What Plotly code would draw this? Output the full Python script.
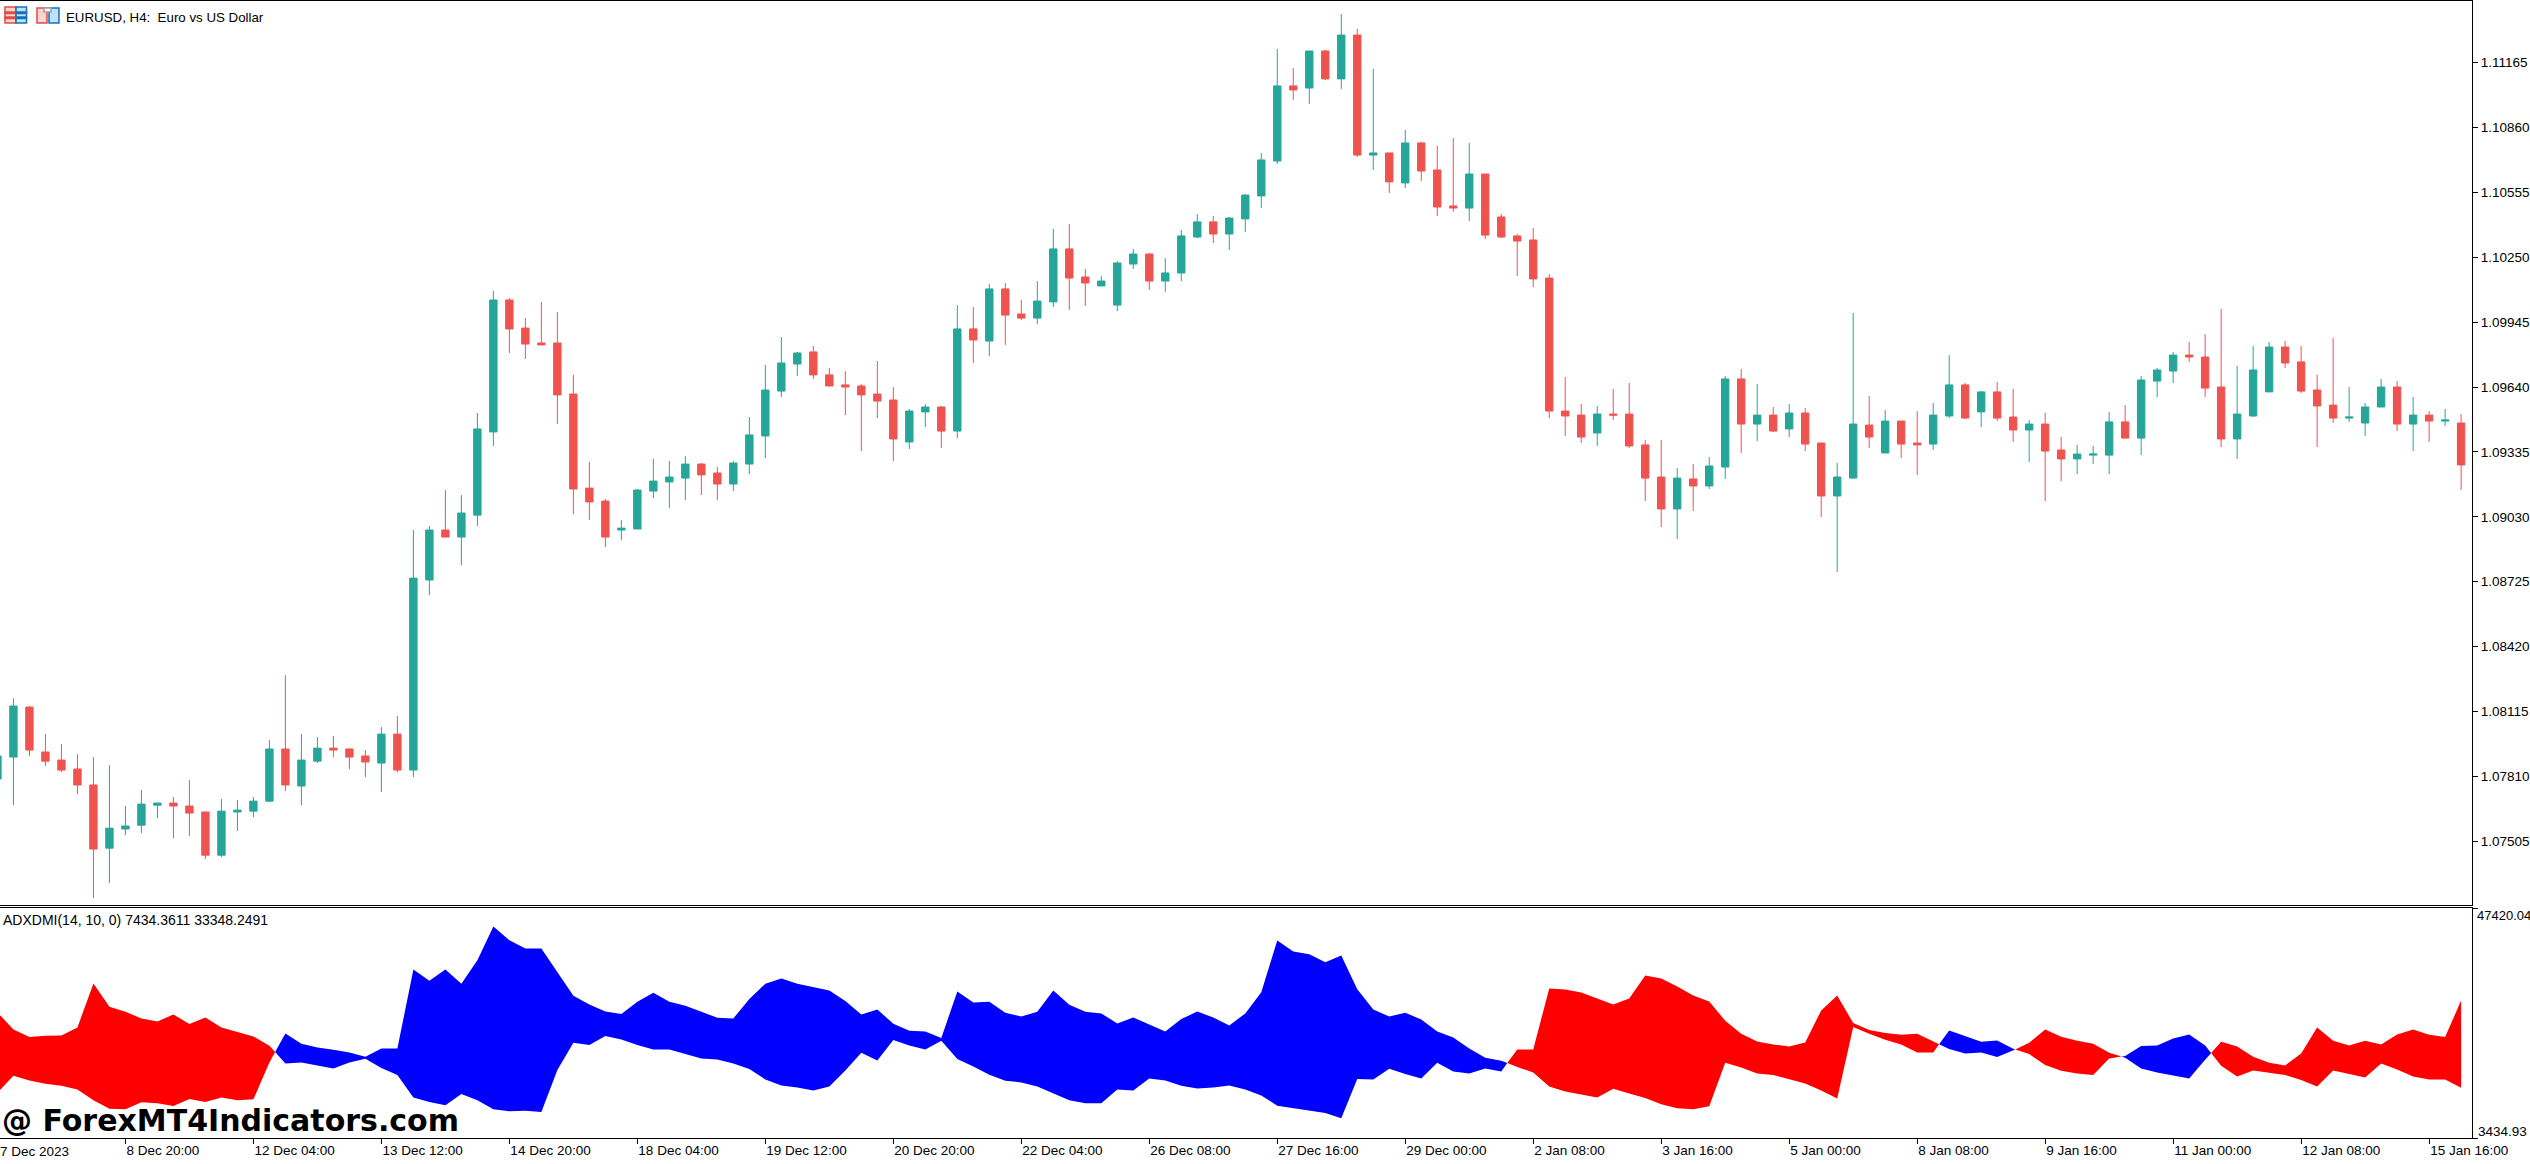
import plotly.graph_objects as go

# price data in MT4 points (1/100000)
open_pts = [
    107798, 107901, 108136, 107925, 107887, 107845, 107770, 107473, 107563, 107581, 107675, 107685, 107671, 107643, 107440, 107643,
    107647, 107694, 107939, 107765, 107882, 107943, 107939, 107906, 107873, 108009, 107840, 108733, 108968, 108935, 109038, 109429,
    110049, 109917, 109847, 109847, 109607, 109165, 109104, 108968, 108973, 109151, 109194, 109212, 109278, 109236, 109184, 109278,
    109410, 109621, 109748, 109805, 109697, 109650, 109645, 109607, 109579, 109382, 109523, 109546, 109433, 109913, 109856, 110101,
    109983, 109964, 110040, 110289, 110157, 110115, 110025, 110218, 110265, 110138, 110176, 110345, 110416, 110359, 110430, 110538,
    110702, 111055, 111045, 111219, 111088, 111294, 110730, 110740, 110599, 110787, 110660, 110491, 110481, 110641, 110439, 110350,
    110331, 110152, 109527, 109508, 109424, 109513, 109513, 109368, 109217, 109067, 109208, 109175, 109264, 109678, 109466, 109508,
    109443, 109518, 109377, 109128, 109212, 109461, 109330, 109480, 109377, 109372, 109504, 109650, 109523, 109617, 109499, 109438,
    109466, 109344, 109302, 109320, 109320, 109476, 109400, 109668, 109715, 109790, 109781, 109640, 109396, 109504, 109617, 109828,
    109758, 109626, 109555, 109494, 109471, 109546, 109640, 109466, 109508, 109480, 109471,
]
high_pts = [
    107939, 108178, 108141, 108009, 107962, 107915, 107901, 107863, 107671, 107746, 107685, 107713, 107793, 107643, 107704, 107699,
    107713, 107981, 108286, 108009, 107995, 108000, 107943, 107934, 108042, 108094, 108968, 108987, 109156, 109132, 109518, 110091,
    110058, 109964, 110040, 109993, 109697, 109288, 109114, 109015, 109161, 109302, 109292, 109316, 109283, 109264, 109292, 109499,
    109744, 109875, 109805, 109833, 109729, 109715, 109654, 109762, 109640, 109537, 109560, 109551, 110025, 110016, 110124, 110129,
    110049, 110138, 110383, 110406, 110195, 110162, 110232, 110289, 110270, 110246, 110378, 110453, 110444, 110439, 110547, 110740,
    111229, 111139, 111219, 111224, 111393, 111323, 111135, 110740, 110848, 110792, 110773, 110810, 110787, 110641, 110453, 110359,
    110387, 110171, 109687, 109560, 109551, 109631, 109659, 109391, 109391, 109259, 109278, 109311, 109692, 109725, 109654, 109546,
    109560, 109541, 109377, 109283, 109988, 109598, 109532, 109480, 109527, 109565, 109790, 109659, 109621, 109664, 109631, 109485,
    109518, 109405, 109368, 109363, 109523, 109555, 109692, 109729, 109805, 109852, 109889, 110007, 109739, 109833, 109852, 109856,
    109833, 109697, 109870, 109640, 109565, 109678, 109668, 109593, 109527, 109537, 109513,
]
low_pts = [
    107751, 107676, 107906, 107859, 107831, 107727, 107238, 107309, 107534, 107544, 107614, 107520, 107530, 107422, 107431, 107553,
    107619, 107690, 107741, 107675, 107873, 107901, 107845, 107807, 107737, 107831, 107807, 108662, 108935, 108803, 108987, 109363,
    109800, 109772, 109838, 109466, 109043, 109015, 108888, 108921, 108973, 109118, 109071, 109109, 109132, 109109, 109151, 109231,
    109306, 109593, 109692, 109678, 109645, 109508, 109339, 109494, 109292, 109349, 109452, 109353, 109400, 109753, 109786, 109838,
    109955, 109936, 110016, 110002, 110021, 110115, 109997, 110195, 110096, 110087, 110138, 110340, 110317, 110284, 110369, 110481,
    110688, 110989, 110970, 111083, 111041, 110721, 110660, 110552, 110575, 110608, 110444, 110463, 110420, 110336, 110340, 110162,
    110110, 109494, 109410, 109377, 109363, 109485, 109353, 109104, 108982, 108926, 109057, 109161, 109208, 109330, 109386, 109429,
    109405, 109339, 109029, 108771, 109212, 109353, 109330, 109306, 109227, 109344, 109494, 109490, 109452, 109480, 109382, 109288,
    109104, 109198, 109231, 109278, 109231, 109400, 109320, 109593, 109659, 109758, 109593, 109358, 109302, 109499, 109617, 109729,
    109612, 109358, 109471, 109476, 109410, 109546, 109433, 109339, 109382, 109457, 109156,
]
close_pts = [
    107906, 108141, 107934, 107882, 107840, 107770, 107469, 107567, 107577, 107680, 107685, 107671, 107638, 107440, 107647, 107652,
    107694, 107939, 107770, 107887, 107943, 107934, 107901, 107878, 108009, 107840, 108742, 108968, 108935, 109048, 109443, 110049,
    109913, 109842, 109838, 109603, 109161, 109100, 108935, 108977, 109156, 109198, 109217, 109278, 109227, 109184, 109283, 109415,
    109626, 109753, 109800, 109697, 109645, 109640, 109603, 109574, 109396, 109527, 109546, 109433, 109913, 109861, 110101, 109978,
    109964, 110044, 110289, 110152, 110129, 110138, 110223, 110265, 110138, 110176, 110350, 110416, 110359, 110434, 110542, 110707,
    111055, 111036, 111219, 111088, 111294, 110730, 110740, 110604, 110787, 110655, 110486, 110481, 110641, 110354, 110345, 110326,
    110148, 109527, 109504, 109405, 109513, 109508, 109363, 109212, 109067, 109212, 109175, 109269, 109678, 109466, 109508, 109433,
    109518, 109372, 109128, 109217, 109466, 109405, 109480, 109372, 109368, 109508, 109650, 109494, 109617, 109494, 109438, 109466,
    109339, 109302, 109325, 109325, 109476, 109400, 109673, 109720, 109790, 109781, 109635, 109396, 109513, 109720, 109828, 109753,
    109621, 109551, 109494, 109499, 109546, 109640, 109466, 109508, 109480, 109485, 109274,
]

# the two ADXDMI lines, same bars as the candles
adx_plus = [
    27467, 24215, 22749, 23004, 23068, 24598, 33013, 28550, 27594, 26319, 25745, 27084, 25235, 26510, 24598, 23705, 22877, 21092,
    17713, 17904, 17394, 16757, 17904, 18605, 16820, 15482, 11210, 10318, 9680, 11848, 10637, 8915, 8533, 8660, 8405, 16438, 21665,
    21219, 22940, 22303, 21219, 20390, 20390, 19498, 18669, 18478, 17713, 16629, 14653, 13505, 13123, 12549, 13314, 16374, 19753,
    18287, 22175, 21155, 20390, 22048, 18542, 17139, 15545, 14398, 14079, 13314, 11975, 10637, 10063, 10063, 12740, 12549, 14844,
    14462, 13442, 12932, 13123, 13505, 12740, 11593, 9617, 9170, 8597, 8214, 7194, 14717, 14653, 16693, 15673, 14844, 17840, 16183,
    15800, 16757, 16183, 20390, 20390, 32057, 31865, 31292, 30144, 28997, 30144, 34543, 33969, 32439, 30718, 29570, 25873, 23387,
    21920, 21347, 20964, 21729, 27849, 30718, 25427, 24088, 23514, 23195, 23387, 21920, 20454, 19625, 19817, 18924, 20199, 21665,
    24215, 22813, 22048, 21474, 19753, 18797, 16757, 15992, 15418, 14844, 18414, 21857, 20964, 18988, 17840, 17330, 19625, 24598,
    22048, 21155, 22048, 21347, 23259, 24215, 23195, 22749, 29762,
]
adx_minus = [
    12103, 15354, 14462, 13824, 13442, 12740, 10637, 9043, 8915, 10254, 10063, 9553, 10892, 10318, 11210, 10637, 10828, 17904,
    23450, 21474, 20773, 20327, 19817, 18988, 20582, 20582, 35690, 33523, 35690, 32949, 37475, 43914, 41300, 39707, 39707, 35244, 30654,
    28997, 27658, 27148, 29507, 31228, 29507, 28742, 27594, 26447, 26319, 30017, 32949, 33969, 32949, 32375, 31674, 29634, 27084,
    28040, 25299, 23960, 23833, 22558, 31483, 29379, 29507, 27403, 26702, 27594, 31674, 28933, 27594, 27275, 25363, 26510, 25172,
    23833, 26192, 27658, 26510, 24980, 27275, 31355, 41237, 39133, 38623, 37093, 38368, 31929, 28040, 26702, 27403, 26128, 23833, 22685,
    20582, 18797, 18223, 17012, 15992, 13314, 12358, 11784, 11210, 12868, 11975, 11083, 9872, 9107, 8915, 9489, 17840, 16948,
    15800, 15482, 14717, 13888, 12549, 11019, 24662, 23387, 22239, 21347, 19817, 19817, 24024, 23004, 21857, 22112, 20518, 19498,
    17394, 16310, 15800, 15482, 18669, 19115, 21028, 21155, 22494, 23259, 21155, 17267, 15227, 16374, 15864, 15482, 14525, 13314,
    16374, 15673, 15035, 17713, 16565, 15227, 14653, 14653, 13059,
]

first_bar = -1
price_ticks = [1.11165, 1.10860, 1.10555, 1.10250, 1.09945, 1.09640, 1.09335, 1.09030,
               1.08725, 1.08420, 1.08115, 1.07810, 1.07505]
date_bars = [7, 15, 23, 31, 39, 47, 55, 63, 71, 79, 87, 95, 103, 111, 119, 127, 135, 143, 151]
date_labels = ["8 Dec 20:00", "12 Dec 04:00", "13 Dec 12:00", "14 Dec 20:00", "18 Dec 04:00",
               "19 Dec 12:00", "20 Dec 20:00", "22 Dec 04:00", "26 Dec 08:00", "27 Dec 16:00",
               "29 Dec 00:00", "2 Jan 08:00", "3 Jan 16:00", "5 Jan 00:00", "8 Jan 08:00",
               "9 Jan 16:00", "11 Jan 00:00", "12 Jan 08:00", "15 Jan 16:00"]
adx_top = 47420.04
adx_bottom = 3434.93

GREEN = "#26a69a"
RED = "#ef5350"
FONT = "Liberation Sans"

bars = list(range(first_bar, first_bar + len(open_pts)))


def band_polygons(xs, upper_is_red):
    """Split the space between the two lines into red and blue polygons."""
    polys = {True: ([], []), False: ([], [])}
    run = []

    def flush(red):
        px_ = [p[0] for p in run] + [p[0] for p in reversed(run)]
        py_ = [p[1] for p in run] + [p[2] for p in reversed(run)]
        polys[red][0].extend(px_ + [None])
        polys[red][1].extend(py_ + [None])

    for i, x in enumerate(xs):
        a, b = adx_plus[i], adx_minus[i]
        red = upper_is_red[i]
        if run and red != upper_is_red[i - 1]:
            # lines cross between two bars
            d0 = adx_plus[i - 1] - adx_minus[i - 1]
            d1 = a - b
            t = d0 / (d0 - d1)
            xc = xs[i - 1] + t
            yc = adx_plus[i - 1] + t * (a - adx_plus[i - 1])
            run.append((xc, yc, yc))
            flush(upper_is_red[i - 1])
            run = [(xc, yc, yc)]
        run.append((x, a, b))
    flush(upper_is_red[-1])
    return polys


is_red = [a > b for a, b in zip(adx_plus, adx_minus)]
polys = band_polygons(bars, is_red)

fig = go.Figure()
fig.add_trace(go.Candlestick(
    x=bars,
    open=[v / 100000 for v in open_pts],
    high=[v / 100000 for v in high_pts],
    low=[v / 100000 for v in low_pts],
    close=[v / 100000 for v in close_pts],
    increasing=dict(line=dict(color=GREEN, width=1), fillcolor=GREEN),
    decreasing=dict(line=dict(color=RED, width=1), fillcolor=RED),
    whiskerwidth=0,
    xaxis="x",
    yaxis="y",
    showlegend=False,
))
fig.add_trace(go.Scatter(x=polys[True][0], y=polys[True][1], mode="lines", fill="toself",
                         fillcolor="#ff0000", line=dict(width=0, color="#ff0000"),
                         xaxis="x2", yaxis="y2", showlegend=False))
fig.add_trace(go.Scatter(x=polys[False][0], y=polys[False][1], mode="lines", fill="toself",
                         fillcolor="#0000ff", line=dict(width=0, color="#0000ff"),
                         xaxis="x2", yaxis="y2", showlegend=False))

# page geometry
W, H = 2530, 1164
PLOT_R, PLOT_T, PLOT_B = 2472.4, 1, 1138
SPLIT_MAIN, SPLIT_ADX = 905.2, 908.2


def fx(px_):
    return px_ / PLOT_R


def fy(py_):
    return (PLOT_B - py_) / (PLOT_B - PLOT_T)


x_range = [-0.84, 153.68]
axis_font = dict(family=FONT, size=13.5, color="#000000")

annotations = [
    dict(text="EURUSD, H4:  Euro vs US Dollar", x=fx(64.5), y=fy(18), xref="paper", yref="paper",
         xanchor="left", yanchor="middle", showarrow=False, font=dict(family=FONT, size=13.3, color="#000000")),
    dict(text="ADXDMI(14, 10, 0) 7434.3611 33348.2491", x=fx(1.5), y=fy(920), xref="paper", yref="paper",
         xanchor="left", yanchor="middle", showarrow=False, font=dict(family=FONT, size=14, color="#000000")),
    dict(text="@ ForexMT4Indicators.com", x=fx(0), y=fy(1120.5), xref="paper", yref="paper",
         xanchor="left", yanchor="middle", showarrow=False,
         font=dict(family="DejaVu Sans", size=30, color="#000000", weight="bold")),
    dict(text="7 Dec 2023", x=fx(-2), y=fy(1151), xref="paper", yref="paper",
         xanchor="left", yanchor="middle", showarrow=False, font=axis_font),
    dict(text="47420.04", x=fx(2475), y=fy(915), xref="paper", yref="paper",
         xanchor="left", yanchor="middle", showarrow=False, font=dict(family=FONT, size=13, color="#000000")),
    dict(text="3434.93", x=fx(2476.5), y=fy(1131), xref="paper", yref="paper",
         xanchor="left", yanchor="middle", showarrow=False, font=axis_font),
]


def icon_rect(x0, y0, x1, y1, line, fill):
    return dict(type="rect", xref="paper", yref="paper", x0=fx(x0), x1=fx(x1), y0=fy(y0), y1=fy(y1),
                line=dict(color=line, width=1.5), fillcolor=fill)


shapes = [
    icon_rect(5, 7, 16, 23, "#e04b45", "#fbd5d0"),
    icon_rect(16, 7, 26.5, 23, "#1670b8", "#bfe0f7"),
    icon_rect(5, 12, 16, 13.5, "#e04b45", "#e04b45"),
    icon_rect(5, 17, 16, 18.5, "#e04b45", "#e04b45"),
    icon_rect(16, 12, 26.5, 13.5, "#1670b8", "#1670b8"),
    icon_rect(16, 17, 26.5, 18.5, "#1670b8", "#1670b8"),
    icon_rect(37, 8, 47, 23, "#e04b45", "#fbd5d0"),
    icon_rect(49, 8, 59, 23, "#1670b8", "#bfe0f7"),
    icon_rect(44, 8, 51, 12, "#a0a0a0", "#ffffff"),
]

fig.update_layout(
    width=W,
    height=H,
    autosize=False,
    margin=dict(l=0, r=W - PLOT_R, t=PLOT_T, b=H - PLOT_B, pad=0),
    paper_bgcolor="#ffffff",
    plot_bgcolor="#ffffff",
    boxgap=0.34,
    showlegend=False,
    annotations=annotations,
    shapes=shapes,
    xaxis=dict(domain=[0, 1], range=x_range, anchor="y", rangeslider=dict(visible=False),
               showgrid=False, zeroline=False, showticklabels=False, ticks="",
               showline=True, mirror=True, linecolor="#000000", linewidth=1),
    yaxis=dict(domain=[fy(SPLIT_MAIN), 1], range=[1.07205, 1.11454], side="right", anchor="x",
               tickvals=price_ticks, ticktext=["%.5f" % v for v in price_ticks], ticks="outside",
               ticklen=5, tickcolor="#000000", showgrid=False, zeroline=False, showline=True,
               linecolor="#000000", linewidth=1.2, tickfont=axis_font),
    xaxis2=dict(domain=[0, 1], range=x_range, anchor="y2", tickvals=date_bars, ticktext=date_labels,
                ticks="outside", ticklen=5, tickcolor="#000000", ticklabelposition="outside right",
                showgrid=False, zeroline=False, showline=True, mirror=True, linecolor="#000000",
                linewidth=1, tickfont=axis_font),
    yaxis2=dict(domain=[0, fy(SPLIT_ADX)], range=[adx_bottom, adx_top], side="right", anchor="x2",
                tickvals=[adx_top, adx_bottom], ticktext=["", ""], ticks="outside", ticklen=5,
                tickcolor="#000000", showgrid=False, zeroline=False, showline=True,
                linecolor="#000000", linewidth=1.2, tickfont=axis_font),
)

fig.write_html("out.html", config={"displayModeBar": False}, post_script="document.body.style.margin='0';")
